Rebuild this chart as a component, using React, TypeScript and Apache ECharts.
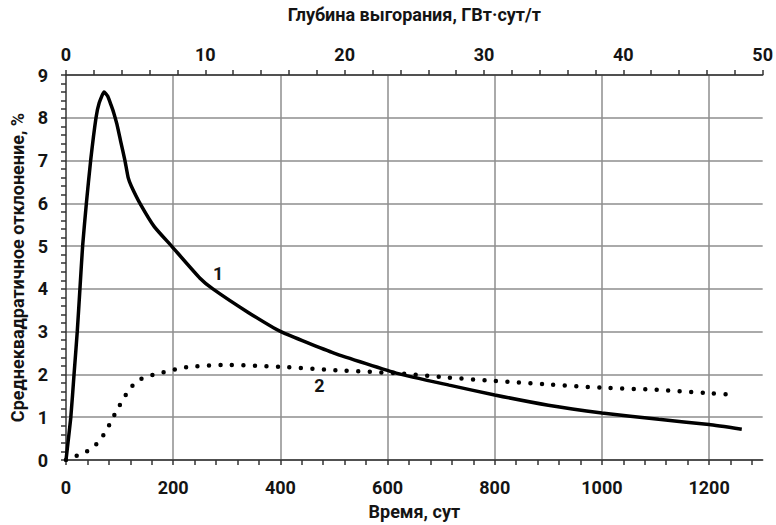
import React, { useEffect, useRef } from "react";
import * as echarts from "echarts";

// Bottom axis: time, days
const timeLabels = [0, 200, 400, 600, 800, 1000, 1200];
// Top axis: burnup, GW·day/t
const burnupLabels = [0, 10, 20, 30, 40, 50];

// Curve 1 (solid)
const curve1Time = [0, 9, 15, 21, 26, 31, 38, 46, 56, 62, 71, 78, 84, 89, 95, 102, 110, 116, 122, 138, 165, 197, 250, 274, 340, 401, 500, 620, 715, 800, 900, 1000, 1106, 1200, 1261];
const curve1Value = [0, 1, 2, 3, 4, 5, 6, 7, 8, 8.35, 8.6, 8.5, 8.3, 8.12, 7.85, 7.45, 7.0, 6.6, 6.4, 6.0, 5.45, 5.0, 4.25, 4.0, 3.45, 3.0, 2.5, 2.02, 1.75, 1.52, 1.28, 1.1, 0.95, 0.83, 0.72];

// Curve 2 (dotted)
const curve2Time = [0, 20, 38.5, 55, 68, 79, 88, 98, 108, 119, 133, 152, 172, 192, 213, 233, 300, 398, 504, 628, 709, 800, 895, 1000, 1102, 1200, 1248];
const curve2Value = [0, 0.1, 0.2, 0.35, 0.55, 0.78, 1.0, 1.23, 1.45, 1.66, 1.85, 1.95, 2.02, 2.08, 2.14, 2.18, 2.22, 2.18, 2.1, 2.02, 1.93, 1.85, 1.77, 1.69, 1.64, 1.56, 1.52];

// curve labels (data coordinates)
const label1 = { text: "1", time: 284, value: 4.37 };
const label2 = { text: "2", time: 473, value: 1.73 };

const FONT = "Roboto, 'Liberation Sans', sans-serif";
const TEXT_COLOR = "#141414";
const AXIS_COLOR = "#333333";
const GRID_COLOR = "#8e8e8e";

const bottomTickValues: number[] = [];
for (let v = 0; v <= 1280; v += 40) bottomTickValues.push(v);
const topTickValues: number[] = [];
for (let v = 0; v <= 50; v += 2) topTickValues.push(v);

export default function App() {
  const ref = useRef<HTMLDivElement>(null);
  useEffect(() => {
    if (!ref.current) return;
    const chart = echarts.init(ref.current, undefined, { renderer: "svg" });
    const labelStyle = {
      fontFamily: FONT,
      fontSize: 18,
      fontWeight: "bold" as const,
      color: TEXT_COLOR,
    };
    const nameStyle = {
      fontFamily: FONT,
      fontSize: 18,
      fontWeight: "bold" as const,
      color: TEXT_COLOR,
    };
    const tickLine = { color: AXIS_COLOR, width: 1.5 };
    const mp = (l: { text: string; time: number; value: number }) => ({
      symbol: "rect",
      symbolSize: 1,
      itemStyle: { color: "rgba(0,0,0,0)" },
      label: { show: true, position: "inside", formatter: l.text, ...labelStyle },
      data: [{ coord: [l.time, l.value] }],
    });
    const plain = (v: number) => String(v);
    chart.setOption({
      animation: false,
      backgroundColor: "#ffffff",
      grid: { left: 66, right: 12, top: 71, bottom: 64, containLabel: false },
      xAxis: [
        {
          type: "value",
          position: "bottom",
          min: 0,
          max: 1300,
          interval: 200,
          axisLine: { show: true, lineStyle: { color: AXIS_COLOR, width: 1.5 } },
          axisTick: {
            show: true,
            inside: false,
            length: 5,
            customValues: bottomTickValues,
            lineStyle: tickLine,
          },
          axisLabel: { customValues: timeLabels, margin: 18, formatter: plain, ...labelStyle },
          splitLine: { show: false },
          name: "Время, сут",
          nameLocation: "middle",
          nameGap: 42,
          nameTextStyle: nameStyle,
        },
        {
          type: "value",
          position: "top",
          min: 0,
          max: 50,
          interval: 10,
          axisLine: { show: true, lineStyle: { color: AXIS_COLOR, width: 1.5 } },
          axisTick: {
            show: true,
            inside: false,
            length: 5,
            customValues: topTickValues,
            lineStyle: tickLine,
          },
          axisLabel: { customValues: burnupLabels, margin: 12, formatter: plain, ...labelStyle },
          splitLine: { show: false },
          name: "Глубина выгорания, ГВт·сут/т",
          nameLocation: "middle",
          nameGap: 52,
          nameTextStyle: nameStyle,
        },
        {
          type: "value",
          position: "bottom",
          min: 0,
          max: 1300,
          interval: 200,
          axisLine: { show: false },
          axisTick: { show: false },
          axisLabel: { show: false },
          splitLine: {
            show: true,
            showMinLine: false,
            showMaxLine: false,
            lineStyle: { color: GRID_COLOR, width: 1.5 },
          },
        },
      ],
      yAxis: {
        type: "value",
        min: 0,
        max: 9,
        interval: 1,
        axisLine: { show: true, lineStyle: { color: AXIS_COLOR, width: 1.5 } },
        axisTick: { show: true, inside: false, length: 5, lineStyle: tickLine },
        minorTick: { show: true, splitNumber: 5, length: 5, lineStyle: tickLine },
        axisLabel: { margin: 18, ...labelStyle },
        splitLine: { show: true, lineStyle: { color: GRID_COLOR, width: 1.5 } },
        name: "Среднеквадратичное отклонение, %",
        nameLocation: "middle",
        nameGap: 40,
        nameRotate: 90,
        nameTextStyle: nameStyle,
      },
      series: [
        {
          type: "line",
          xAxisIndex: 0,
          data: curve2Time.map((t, i) => [t, curve2Value[i]]),
          showSymbol: false,
          smooth: 0.3,
          lineStyle: { color: "#000", width: 4.5, type: [0, 11.5], cap: "round" },
          markPoint: mp(label2),
          z: 3,
        },
        {
          type: "line",
          xAxisIndex: 0,
          data: curve1Time.map((t, i) => [t, curve1Value[i]]),
          showSymbol: false,
          smooth: 0.15,
          lineStyle: { color: "#000", width: 3.5 },
          markPoint: mp(label1),
          z: 4,
        },
      ],
    });
    return () => chart.dispose();
  }, []);
  return (
    <div
      ref={ref}
      style={{ position: "fixed", left: 0, top: 0, width: 776, height: 525, background: "#fff" }}
    />
  );
}
